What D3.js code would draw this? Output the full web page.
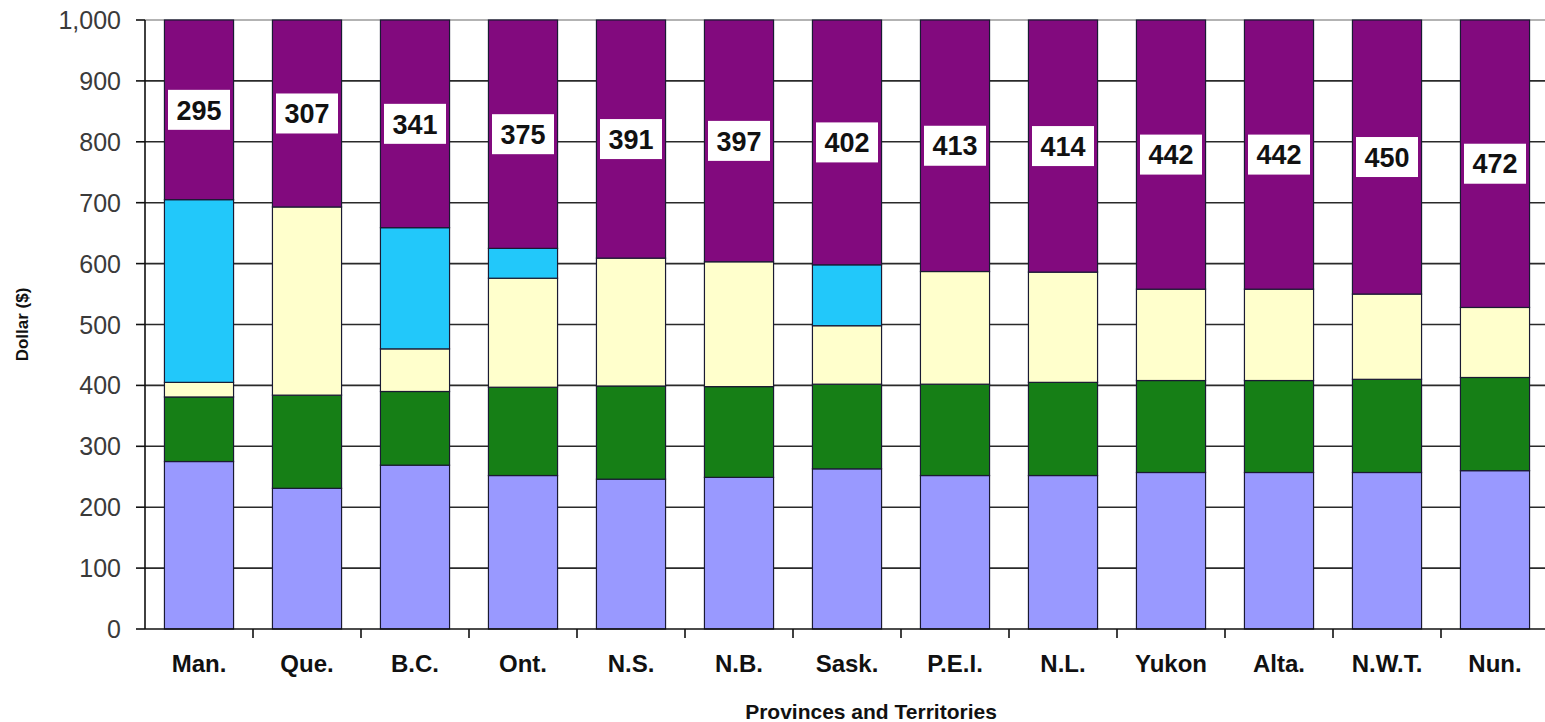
<!DOCTYPE html>
<html>
<head>
<meta charset="utf-8">
<script src="https://cdn.jsdelivr.net/npm/d3@7"></script>
<style>
  html, body { margin: 0; padding: 0; background: #fff; }
  svg { display: block; font-family: "Liberation Sans", Arial, sans-serif; }
</style>
</head>
<body>
<svg id="chart" width="1545" height="722"></svg>
<script>
// Provinces and territories, ordered by the top-segment amount
const provinces = ["Man.", "Que.", "B.C.", "Ont.", "N.S.", "N.B.", "Sask.", "P.E.I.", "N.L.", "Yukon", "Alta.", "N.W.T.", "Nun."];

// Stacked components (dollars), bottom to top
const seriesA = [275, 231, 269, 252, 246, 249, 263, 252, 252, 257, 257, 257, 260]; // lavender
const seriesB = [106, 153, 121, 145, 153, 149, 139, 150, 153, 151, 151, 153, 153]; // green
const seriesC = [24, 309, 70, 179, 210, 205, 96, 185, 181, 150, 150, 140, 115];    // pale yellow
const seriesD = [300, 0, 199, 49, 0, 0, 100, 0, 0, 0, 0, 0, 0];                   // sky blue
const seriesE = [295, 307, 341, 375, 391, 397, 402, 413, 414, 442, 442, 450, 472]; // purple (labelled)

const yTicks = [0, 100, 200, 300, 400, 500, 600, 700, 800, 900, 1000];

const keys = ["a", "b", "c", "d", "e"];
const colors = { a: "#9999FF", b: "#167F16", c: "#FFFFCC", d: "#22C8FA", e: "#820A7E" };

const rows = provinces.map((p, i) => ({
  name: p, a: seriesA[i], b: seriesB[i], c: seriesC[i], d: seriesD[i], e: seriesE[i]
}));

const svg = d3.select("#chart");
const plotLeft = 145, plotRight = 1549, plotTop = 20, plotBottom = 629;

const x = d3.scaleBand().domain(provinces).range([plotLeft, plotRight])
  .paddingInner(0.36).paddingOuter(0.18);
const y = d3.scaleLinear().domain([0, 1000]).range([plotBottom, plotTop]);

// Horizontal gridlines (behind the bars)
svg.append("g").selectAll("line").data(yTicks.filter(t => t > 0)).join("line")
  .attr("x1", plotLeft).attr("x2", plotRight)
  .attr("y1", d => y(d)).attr("y2", d => y(d))
  .attr("stroke", d => d === 1000 ? "#9a9a9a" : "#2a2a2a")
  .attr("stroke-width", 1.6);

// Stacked bars
const stacked = d3.stack().keys(keys)(rows);
svg.append("g").selectAll("g").data(stacked).join("g")
  .attr("fill", s => colors[s.key])
  .selectAll("rect").data(s => s.filter(d => d[1] - d[0] > 0)).join("rect")
  .attr("x", d => x(d.data.name))
  .attr("width", x.bandwidth())
  .attr("y", d => y(d[1]))
  .attr("height", d => y(d[0]) - y(d[1]))
  .attr("stroke", "#1a1a33")
  .attr("stroke-width", 1.2);

// Y axis
const yAxis = svg.append("g").attr("transform", `translate(${plotLeft},0)`);
yAxis.append("line").attr("x1", 0).attr("x2", 0).attr("y1", y(1000)).attr("y2", y(0))
  .attr("stroke", "#111").attr("stroke-width", 1.6);
yAxis.selectAll("line.tick").data(yTicks).join("line").attr("class", "tick")
  .attr("x1", -9).attr("x2", 0).attr("y1", d => y(d)).attr("y2", d => y(d))
  .attr("stroke", "#111").attr("stroke-width", 1.6);
yAxis.selectAll("text").data(yTicks).join("text")
  .attr("x", -24).attr("y", d => y(d)).attr("dy", "0.36em")
  .attr("text-anchor", "end").attr("font-size", 25).attr("fill", "#3a3a3a")
  .text(d => d3.format(",")(d));

// X axis
const xAxis = svg.append("g");
xAxis.append("line").attr("x1", plotLeft).attr("x2", plotRight).attr("y1", plotBottom).attr("y2", plotBottom)
  .attr("stroke", "#111").attr("stroke-width", 1.6);
const bounds = d3.range(1, provinces.length + 1).map(i => x.range()[0] + i * x.step());
xAxis.selectAll("line.tick").data(bounds).join("line").attr("class", "tick")
  .attr("x1", d => d).attr("x2", d => d).attr("y1", plotBottom).attr("y2", plotBottom + 9)
  .attr("stroke", "#111").attr("stroke-width", 1.6);
xAxis.selectAll("text").data(provinces).join("text")
  .attr("x", d => x(d) + x.bandwidth() / 2).attr("y", 672)
  .attr("text-anchor", "middle").attr("font-size", 24).attr("font-weight", "bold")
  .attr("fill", "#111").text(d => d);

// Value labels on the top segment
const topLayer = stacked[stacked.length - 1];
const lbl = svg.append("g").selectAll("g").data(topLayer).join("g")
  .attr("transform", d => `translate(${x(d.data.name) + x.bandwidth() / 2},${y((d[0] + d[1]) / 2)})`);
lbl.append("rect").attr("x", -31).attr("y", -20).attr("width", 62).attr("height", 40)
  .attr("fill", "#fff");
lbl.append("text").attr("text-anchor", "middle").attr("dy", "0.36em")
  .attr("font-size", 27).attr("font-weight", "bold").attr("fill", "#111")
  .text(d => d.data.e);

// Axis titles
svg.append("text")
  .attr("transform", `translate(28,${(plotTop + plotBottom) / 2}) rotate(-90)`)
  .attr("text-anchor", "middle").attr("font-size", 17).attr("font-weight", "bold")
  .attr("fill", "#111").text("Dollar ($)");
svg.append("text")
  .attr("x", 871).attr("y", 719)
  .attr("text-anchor", "middle").attr("font-size", 21).attr("font-weight", "bold")
  .attr("fill", "#111").text("Provinces and Territories");
</script>
</body>
</html>
